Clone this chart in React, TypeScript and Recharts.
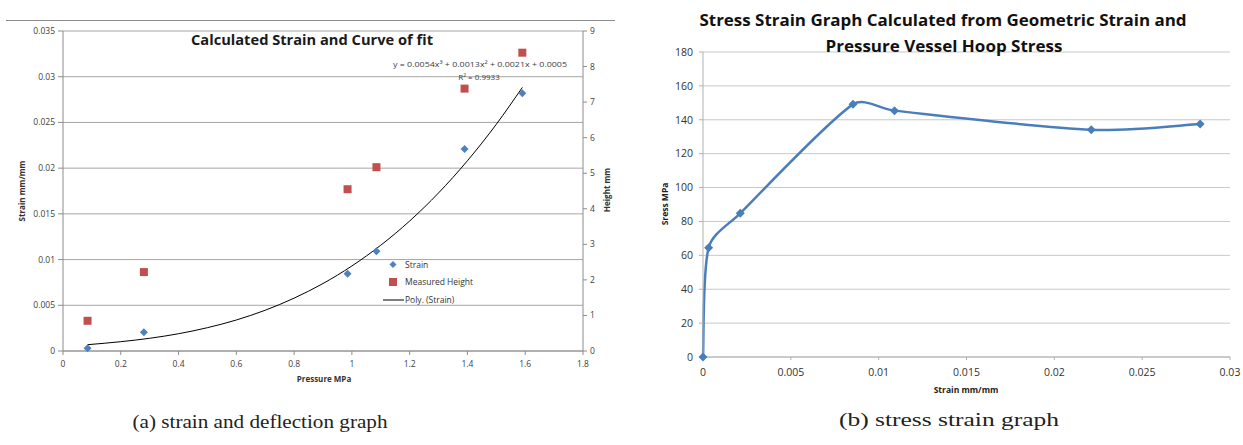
import React from "react";
import {
  ComposedChart,
  LineChart,
  Line,
  Scatter,
  XAxis,
  YAxis,
  CartesianGrid,
  Legend,
} from "recharts";

// (a) strain and measured height against pressure
const pressure = [0.085, 0.28, 0.985, 1.085, 1.39, 1.59];
const strain = [0.0003, 0.00205, 0.00845, 0.0109, 0.0221, 0.0282];
const height = [0.85, 2.22, 4.55, 5.17, 7.38, 8.39];

// points read along the poly trendline
const polyX = [0.085, 0.2, 0.3, 0.4, 0.5, 0.6, 0.7, 0.8, 0.9, 1.0, 1.1, 1.2, 1.3, 1.4, 1.5, 1.59];
const polyY = [
  0.00069, 0.00102, 0.00139, 0.00189, 0.00255, 0.00339, 0.00446, 0.00578,
  0.00738, 0.0093, 0.01157, 0.01422, 0.01729, 0.02081, 0.0248, 0.02883,
];

const pressureTicks = [0, 0.2, 0.4, 0.6, 0.8, 1, 1.2, 1.4, 1.6, 1.8];
const strainTicks = [0, 0.005, 0.01, 0.015, 0.02, 0.025, 0.03, 0.035];
const heightTicks = [0, 1, 2, 3, 4, 5, 6, 7, 8, 9];

// (b) stress against strain
const strainB = [0, 0.00032, 0.00212, 0.00854, 0.0109, 0.0221, 0.0283];
const stress = [0, 64.5, 84.8, 149.1, 145.4, 134.1, 137.5];

const strainBTicks = [0, 0.005, 0.01, 0.015, 0.02, 0.025, 0.03];
const stressTicks = [0, 20, 40, 60, 80, 100, 120, 140, 160, 180];

const strainData = pressure.map((x, i) => ({ x, y: strain[i] }));
const heightData = pressure.map((x, i) => ({ x, y: height[i] }));
const polyData = polyX.map((x, i) => ({ x, y: polyY[i] }));
const stressData = strainB.map((x, i) => ({ x, y: stress[i] }));

const BLUE = "#4f81bd";
const RED = "#c0504d";
const FONT = "'Open Sans', sans-serif";

// excel-like smoothed line: catmull-rom tangents, shortened next to short segments
const excelSmooth = (context: any) => {
  let pts: [number, number][] = [];
  const dist = (a: [number, number], b: [number, number]) =>
    Math.hypot(b[0] - a[0], b[1] - a[1]);
  return {
    areaStart() {},
    areaEnd() {},
    lineStart() {
      pts = [];
    },
    point(x: number, y: number) {
      pts.push([+x, +y]);
    },
    lineEnd() {
      if (!pts.length) return;
      context.moveTo(pts[0][0], pts[0][1]);
      for (let i = 0; i < pts.length - 1; i++) {
        const p0 = pts[Math.max(i - 1, 0)];
        const p1 = pts[i];
        const p2 = pts[i + 1];
        const p3 = pts[Math.min(i + 2, pts.length - 1)];
        const d01 = dist(p0, p1);
        const d12 = dist(p1, p2);
        const d23 = dist(p2, p3);
        const a = Math.min(1 / 6, d12 / (3 * (d01 + d12 || 1)));
        const b = Math.min(1 / 6, d12 / (3 * (d12 + d23 || 1)));
        context.bezierCurveTo(
          p1[0] + (p2[0] - p0[0]) * a,
          p1[1] + (p2[1] - p0[1]) * a,
          p2[0] - (p3[0] - p1[0]) * b,
          p2[1] - (p3[1] - p1[1]) * b,
          p2[0],
          p2[1]
        );
      }
    },
  };
};

const Diamond = ({ cx, cy, r = 4, fill = BLUE }: any) => {
  if (cx == null || cy == null) return <g />;
  return (
    <polygon
      points={`${cx},${cy - r} ${cx + r},${cy} ${cx},${cy + r} ${cx - r},${cy}`}
      fill={fill}
    />
  );
};

const Square = ({ cx, cy }: any) => {
  if (cx == null || cy == null) return <g />;
  return <rect x={cx - 4} y={cy - 4} width={8} height={8} fill={RED} />;
};

const LegendBox = () => (
  <svg width={110} height={50} style={{ display: "block" }}>
    <g fontFamily={FONT} fontSize={8.5} fill="#333">
      <polygon points="10,2 13.5,5.5 10,9 6.5,5.5" fill={BLUE} />
      <text x={22} y={8.5}>Strain</text>
      <rect x={6} y={19} width={8} height={8} fill={RED} />
      <text x={22} y={26}>Measured Height</text>
      <line x1={0} x2={21} y1={41} y2={41} stroke="#000" strokeWidth={1} />
      <text x={22} y={44}>Poly. (Strain)</text>
    </g>
  </svg>
);

const tickA = { fill: "#404040", fontSize: 8.5, fontFamily: FONT };
const tickB = { fill: "#333", fontSize: 10.5, fontFamily: FONT };

export default function App() {
  return (
    <div
      style={{
        position: "absolute",
        left: 0,
        top: 0,
        width: 1243,
        height: 445,
        background: "#fff",
        overflow: "hidden",
      }}
    >
      <div style={{ position: "absolute", left: 0, top: 0 }}>
        <ComposedChart
          width={620}
          height={400}
          margin={{ top: 31, right: 7, bottom: 19, left: 3 }}
        >
          <CartesianGrid
            yAxisId="l"
            vertical={false}
            stroke="#a6a6a6"
            horizontalValues={strainTicks}
          />
          <XAxis
            type="number"
            dataKey="x"
            domain={[0, 1.8]}
            ticks={pressureTicks}
            height={30}
            tick={tickA}
            tickSize={4}
            tickMargin={6}
            stroke="#8c8c8c"
          />
          <YAxis
            yAxisId="l"
            type="number"
            dataKey="y"
            domain={[0, 0.035]}
            ticks={strainTicks}
            width={60}
            tick={tickA}
            tickSize={5}
            tickMargin={3}
            stroke="#8c8c8c"
          />
          <YAxis
            yAxisId="r"
            orientation="right"
            type="number"
            dataKey="y"
            domain={[0, 9]}
            ticks={heightTicks}
            width={30}
            tick={tickA}
            tickSize={4}
            tickMargin={3}
            stroke="#8c8c8c"
          />
          <Scatter
            yAxisId="l"
            name="Poly. (Strain)"
            data={polyData}
            line={{ stroke: "#000", strokeWidth: 1 }}
            lineJointType="monotoneX"
            shape={() => <g />}
            isAnimationActive={false}
          />
          <Scatter
            yAxisId="l"
            name="Strain"
            data={strainData}
            shape={(p: any) => <Diamond cx={p.cx} cy={p.cy} r={4} />}
            isAnimationActive={false}
          />
          <Scatter
            yAxisId="r"
            name="Measured Height"
            data={heightData}
            shape={(p: any) => <Square cx={p.cx} cy={p.cy} />}
            isAnimationActive={false}
          />
          <Legend
            layout="vertical"
            align="center"
            verticalAlign="middle"
            content={() => <LegendBox />}
            wrapperStyle={{ position: "absolute", left: 383, top: 259, width: 110 }}
          />
        </ComposedChart>
      </div>

      <div style={{ position: "absolute", left: 620, top: 0 }}>
        <LineChart
          width={623}
          height={400}
          margin={{ top: 52, right: 13, bottom: 13, left: 23 }}
        >
          <CartesianGrid
            vertical={false}
            stroke="#c8c8c8"
            horizontalValues={stressTicks}
          />
          <XAxis
            type="number"
            dataKey="x"
            domain={[0, 0.03]}
            ticks={strainBTicks}
            height={30}
            tick={tickB}
            tickSize={3}
            tickMargin={9}
            stroke="#b0b0b0"
          />
          <YAxis
            type="number"
            domain={[0, 180]}
            ticks={stressTicks}
            width={60}
            tick={tickB}
            tickSize={4}
            tickMargin={6}
            stroke="#b0b0b0"
          />
          <Line
            data={stressData}
            dataKey="y"
            type={excelSmooth as any}
            stroke="#4a7ebb"
            strokeWidth={2.5}
            dot={(p: any) => <Diamond key={p.index} cx={p.cx} cy={p.cy} r={4.5} fill="#4a7ebb" />}
            activeDot={false}
            isAnimationActive={false}
          />
        </LineChart>
      </div>

      <svg
        width={1243}
        height={445}
        style={{ position: "absolute", left: 0, top: 0, pointerEvents: "none" }}
      >
        <line x1={6} x2={615} y1={20.5} y2={20.5} stroke="#8c8c8c" strokeWidth={1} />
        <g fontFamily={FONT}>
          <text x={312} y={45} textAnchor="middle" fontSize={15} fontWeight={700} fill="#1a1a1a" textLength={242} lengthAdjust="spacingAndGlyphs">
            Calculated Strain and Curve of fit
          </text>
          <text x={480} y={67} textAnchor="middle" fontSize={8} fill="#404040" textLength={174} lengthAdjust="spacingAndGlyphs">
            y = 0.0054x³ + 0.0013x² + 0.0021x + 0.0005
          </text>
          <text x={479} y={79.5} textAnchor="middle" fontSize={8} fill="#404040">
            R² = 0.9933
          </text>
          <text x={25} y={191} transform="rotate(-90 25 191)" textAnchor="middle" fontSize={8} fontWeight={700} fill="#333">
            Strain mm/mm
          </text>
          <text x={610} y={190} transform="rotate(-90 610 190)" textAnchor="middle" fontSize={8} fontWeight={700} fill="#333">
            Height mm
          </text>
          <text x={324} y={382} textAnchor="middle" fontSize={8} fontWeight={700} fill="#333">
            Pressure MPa
          </text>

          <text x={943} y={26} textAnchor="middle" fontSize={16} fontWeight={700} fill="#111" textLength={487} lengthAdjust="spacingAndGlyphs">
            Stress Strain Graph Calculated from Geometric Strain and
          </text>
          <text x={944} y={51.5} textAnchor="middle" fontSize={16} fontWeight={700} fill="#111" textLength={237} lengthAdjust="spacingAndGlyphs">
            Pressure Vessel Hoop Stress
          </text>
          <text x={668} y={204} transform="rotate(-90 668 204)" textAnchor="middle" fontSize={8.5} fontWeight={700} fill="#222">
            Sress MPa
          </text>
          <text x={966} y={393} textAnchor="middle" fontSize={8.5} fontWeight={700} fill="#222">
            Strain mm/mm
          </text>
        </g>
        <g fontFamily="'Liberation Serif', 'DejaVu Serif', serif" fontSize={19.5} fill="#222">
          <text x={260} y={428} textAnchor="middle" textLength={255} lengthAdjust="spacingAndGlyphs">
            (a) strain and deflection graph
          </text>
          <text x={949} y={426} textAnchor="middle" textLength={220} lengthAdjust="spacingAndGlyphs">
            (b) stress strain graph
          </text>
        </g>
      </svg>
    </div>
  );
}
